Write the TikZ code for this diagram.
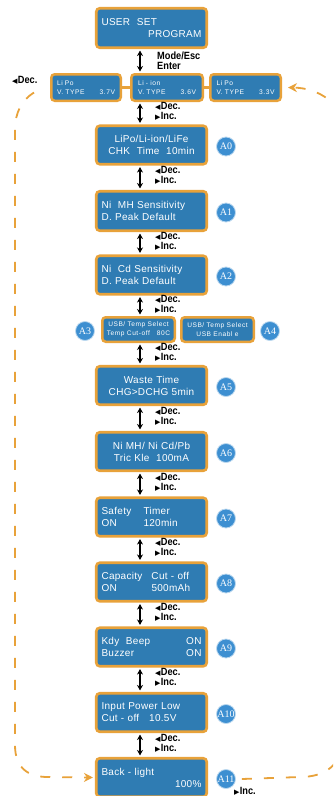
\documentclass[tikz,border=0pt]{standalone}
\usepackage{fontspec}
\setmainfont{Liberation Sans}[LetterSpace=3]
\newfontfamily\smallf{Liberation Sans}[LetterSpace=8]
\newfontfamily\decfont{Liberation Sans}[FakeStretch=0.88]
\newfontfamily\symf{DejaVu Sans}
\newfontfamily\tagf{Liberation Serif}
\usetikzlibrary{arrows.meta,calc}
\definecolor{bor}{HTML}{E8A23A}
\definecolor{lcd}{HTML}{2F7CB3}
\definecolor{cir}{HTML}{3D8FD1}
\newcommand\ltri{{\symf\fontsize{7}{7}\selectfont ◀}\hspace{0.3pt}}
\newcommand\rtri{{\symf\fontsize{7}{7}\selectfont ▶}\hspace{0.3pt}}
\tikzset{
  lcdbox/.style={draw=bor, fill=lcd, line width=2.6pt, rounded corners=3.5pt,
    text=white, inner sep=0pt},
  mainbox/.style={lcdbox, minimum width=110.5pt, minimum height=38.5pt,
    text width=100pt, align=left, font=\fontsize{10}{12}\selectfont},
  topbox/.style={lcdbox, line width=2.5pt, minimum height=26.5pt, text width=58pt,
    align=left, font=\smallf\fontsize{6.7}{9}\selectfont},
  midbox/.style={lcdbox, line width=2.5pt, minimum width=72.5pt, minimum height=24.5pt,
    align=center, font=\smallf\fontsize{6.6}{8.5}\selectfont},
  tag/.style={circle, fill=cir, draw=white!65!cir, line width=0.8pt, minimum size=19pt,
    inner sep=0pt, text=white, font=\tagf\fontsize{10}{10}\selectfont},
  nav/.style={draw=black, line width=1.2pt,
    {Stealth[length=5.5pt,width=6pt]}-{Stealth[length=5.5pt,width=6pt]},
    shorten <=1.5pt, shorten >=1.5pt},
  navlbl/.style={anchor=west, align=left, inner sep=0pt,
    font=\decfont\bfseries\fontsize{10.5}{10}\selectfont},
  loopline/.style={draw=bor, line width=1.8pt, dash pattern=on 10pt off 12pt},
  looptip/.style={-{Stealth[length=9pt,width=9pt,fill=bor]}}
}
\begin{document}
\begin{tikzpicture}[x=1pt,y=-1pt]
\useasboundingbox (0,0) rectangle (333,796);
\clip (0,0) rectangle (333,796);
\coordinate (ax) at (140,0);
\coordinate (lx) at (155,0);
\coordinate (tx) at (226,0);

% top
\node[mainbox, minimum height=39.5pt] (user) at (151.5,28) {USER~~SET\\\mbox{}\hfill PROGRAM};
\node[topbox, minimum width=69.5pt] (lbox) at (86,87.5) {Li Po\\V. TYPE\hfill 3.7V};
\node[topbox, minimum width=71.5pt] (mbox) at (167,87.5) {Li - ion\\V. TYPE\hfill 3.6V};
\node[topbox, minimum width=70.5pt] (rbox) at (245.5,87.5) {Li Po\\V. TYPE\hfill 3.3V};
\draw[bor, line width=2.5pt] (lbox.east) -- (mbox.west);
\draw[bor, line width=2.5pt] (mbox.east) -- (rbox.west);

% main chain
\node[mainbox, align=center] (A0) at (151.5,145) {LiPo/Li-ion/LiFe\\CHK~~Time~~10min};
\node[mainbox, minimum height=39.5pt] (A1) at (151.5,211) {Ni~~MH Sensitivity\\D. Peak Default};
\node[mainbox] (A2) at (151.5,275) {Ni~~Cd Sensitivity\\D. Peak Default};
\node[midbox] (A3) at (138.5,329.5) {USB/ Temp Select\\Temp Cut-off~~~80C};
\node[midbox] (A4) at (217.5,329.5) {USB/ Temp Select\\USB Enabl e};
\node[mainbox, align=center] (A5) at (151.5,385.5) {Waste Time\\CHG>DCHG 5min};
\node[mainbox, align=center] (A6) at (151.5,451.5) {Ni MH/ Ni Cd/Pb\\Tric Kle~~100mA};
\node[mainbox] (A7) at (151.5,517) {\makebox[42pt][l]{Safety}Timer\\\makebox[42pt][l]{ON}120min};
\node[mainbox] (A8) at (151.5,582) {\makebox[50pt][l]{Capacity}Cut - off\\\makebox[50pt][l]{ON}500mAh};
\node[mainbox] (A9) at (151.5,647) {Kdy~~Beep\hfill ON\\Buzzer\hfill ON};
\node[mainbox] (A10) at (151.5,712.5) {Input Power Low\\Cut - off~~~10.5V};
\node[mainbox] (A11) at (151.5,777.5) {Back - light\\\mbox{}\hfill 100\%};

% tags
\foreach \b in {A0,A1,A2,A5,A6,A7,A8,A9,A10,A11}{
  \node[tag] (c\b) at ($(\b.center -| tx)+(0,1.5)$) {\b};
}
\node[tag] (cA3) at (85,331) {A3};
\node[tag] (cA4) at (270,331) {A4};

% navigation arrows
\draw[nav] (user.south -| ax) -- (mbox.north -| ax);
\node[navlbl] (lab0) at (157,60.5) {Mode/Esc\\Enter};
\foreach \a/\b/\n in {mbox/A0/1, A0/A1/2, A1/A2/3, A2/A3/4, A3/A5/5, A5/A6/6,
    A6/A7/7, A7/A8/8, A8/A9/9, A9/A10/10, A10/A11/11}{
  \draw[nav] (\a.south -| ax) -- (\b.north -| ax);
  \path (\a.south) -- (\b.north) coordinate[pos=0.42] (m\n);
  \node[navlbl] (lab\n) at (m\n -| lx) {\ltri Dec.\\\rtri Inc.};
}

% loop
\node[navlbl] (decl) at (12,80) {\ltri Dec.};
\node[navlbl] (incb) at (234,791) {\rtri Inc.};
\draw[loopline, looptip] ($(lbox.west)+(-16,5)$) .. controls (22,100) and (15,112) .. (15,130)
  -- (15,745) .. controls (15,768) and (28,777) .. (48,777) -- ($(A11.west)+(-2,0)$);
\draw[loopline, looptip] ($(cA11.east)+(6,0)$) -- (300,777) .. controls (325,777) and (342,765) .. (342,740)
  -- (342,125) .. controls (342,105) and (320,88) .. ($(rbox.east)+(6,0)$);
\end{tikzpicture}
\end{document}
